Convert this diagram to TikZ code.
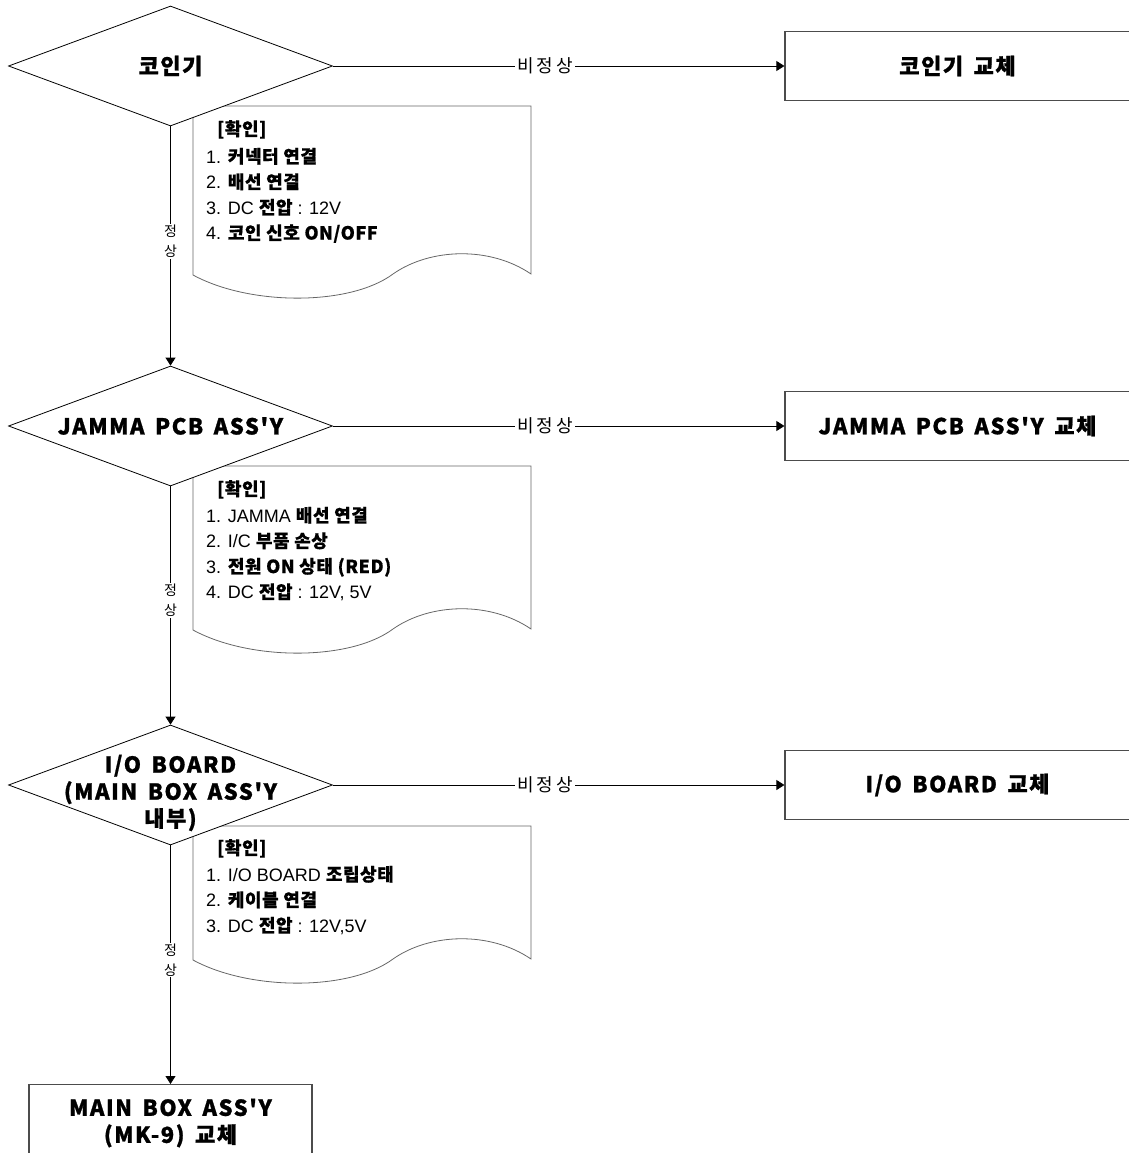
\documentclass[tikz,border=0pt]{standalone}
\usepackage{fontspec}
\setmainfont{Liberation Sans}
\newfontfamily\kr{Noto Sans CJK KR}[LetterSpace=3,BoldFeatures={FakeBold=0.6}]
\newfontfamily\krhead{Noto Sans CJK KR}[LetterSpace=7,WordSpace=1.6,BoldFeatures={FakeBold=1}]
\usetikzlibrary{shapes.geometric,arrows.meta,positioning}
\newcommand{\kb}[1]{{\kr\bfseries #1}}

\begin{document}
\begin{tikzpicture}[x=1pt,y=-1pt,
  every node/.style={inner sep=0pt},
  decision/.style={diamond,draw,fill=white,line width=0.8pt,minimum width=324pt,minimum height=120pt},
  fixbox/.style={rectangle,draw=black!70,line width=1.2pt,minimum width=345pt,minimum height=69pt},
  head/.style={font=\krhead\bfseries\fontsize{22}{27}\selectfont,align=center},
  memo/.style={anchor=north west,align=left,font=\fontsize{18}{25.5}\selectfont},
  memoline/.style={draw=black!60,line width=0.8pt},
  flow/.style={-{Triangle[length=8pt,width=10pt]},line width=0.8pt},
  ok/.style={fill=white,align=center,font=\kr\fontsize{14}{20}\selectfont,inner sep=1pt},
  bad/.style={fill=white,font=\kr\fontsize{18}{20}\selectfont,inner xsep=2pt}]
\useasboundingbox (0,0) rectangle (1128,1153);

\draw[memoline] (193,106) -- (531,106) -- (531,274) .. controls (490,246) and (430,248) .. (393,274) .. controls (350,306) and (250,306) .. (193,275) -- cycle;
\draw[memoline] (193,466) -- (531,466) -- (531,629) .. controls (490,601) and (430,603) .. (393,629) .. controls (350,661) and (250,661) .. (193,630) -- cycle;
\draw[memoline] (193,826) -- (531,826) -- (531,959) .. controls (490,931) and (430,933) .. (393,959) .. controls (350,991) and (250,991) .. (193,960) -- cycle;

\node[memo] (memo1) at (206,120) {\hspace{11pt}\kb{[확인]}\\[2pt]
1. \kb{커넥터 연결}\\
2. \kb{배선 연결}\\
3. DC \kb{전압} : 12V\\
4. \kb{코인 신호 ON/OFF}};
\node[memo] (memo2) at (206,480) {\hspace{11pt}\kb{[확인]}\\[1pt]
1. JAMMA \kb{배선 연결}\\
2. I/C \kb{부품 손상}\\
3. \kb{전원 ON 상태 (RED)}\\
4. DC \kb{전압} : 12V, 5V};
\node[memo] (memo3) at (206,839) {\hspace{11pt}\kb{[확인]}\\[1pt]
1. I/O BOARD \kb{조립상태}\\
2. \kb{케이블 연결}\\
3. DC \kb{전압} : 12V,5V};

\node[decision] (coin) at (170.5,66) {};
\node[head] at (coin) {코인기};
\node[decision] (jamma) at (170.5,426) {};
\node[head] at (jamma) {JAMMA PCB ASS'Y};
\node[decision] (ioboard) at (170.5,785) {};
\node[head] at (170.5,793) {I/O BOARD\\(MAIN BOX ASS'Y\\내부)};

\node[fixbox,head] (coinfix) at (957.5,66) {코인기 교체};
\node[fixbox,head] (jammafix) at (957.5,426) {JAMMA PCB ASS'Y 교체};
\node[fixbox,head] (iofix) at (957.5,785) {I/O BOARD 교체};
\node[fixbox,head,minimum width=283pt,minimum height=0pt,inner ysep=14pt,anchor=north] (mainfix) at (170.5,1084) {MAIN BOX ASS'Y\\(MK-9) 교체};

\draw[flow] (coin.east) -- node[bad,pos=0.47]{비\kern3pt 정\kern3pt 상} (coinfix.west);
\draw[flow] (jamma.east) -- node[bad,pos=0.47]{비\kern3pt 정\kern3pt 상} (jammafix.west);
\draw[flow] (ioboard.east) -- node[bad,pos=0.47]{비\kern3pt 정\kern3pt 상} (iofix.west);
\draw[flow] (coin.south) -- node[ok,pos=0.48]{정\\상} (jamma.north);
\draw[flow] (jamma.south) -- node[ok,pos=0.48]{정\\상} (ioboard.north);
\draw[flow] (ioboard.south) -- node[ok,pos=0.48]{정\\상} (mainfix.north);
\end{tikzpicture}
\end{document}
